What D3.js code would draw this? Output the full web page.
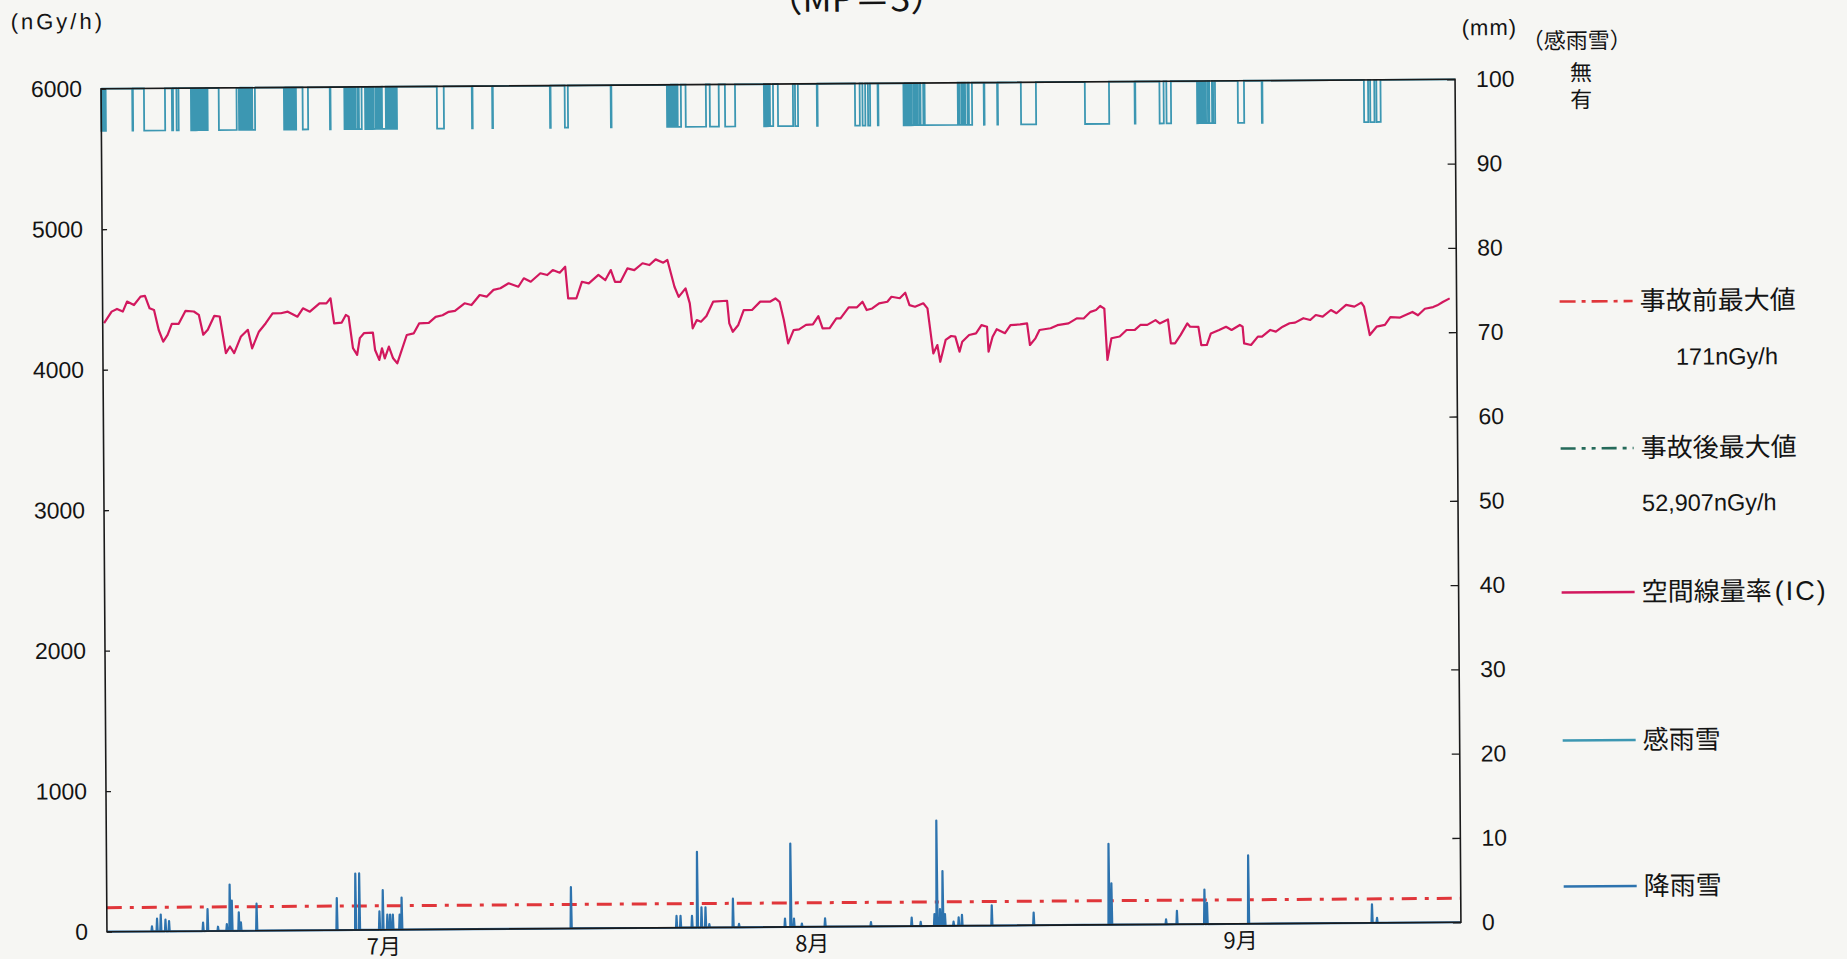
<!DOCTYPE html>
<html>
<head>
<meta charset="utf-8">
<script src="https://cdn.jsdelivr.net/npm/d3@7"></script>
<style>
  html, body { margin: 0; padding: 0; background: #f6f6f3; }
  svg { display: block; }
  text { font-family: "Liberation Sans", Arial, sans-serif; fill: #141414; }
  .jp { font-family: "Noto Sans CJK JP", sans-serif; }
</style>
</head>
<body>
<svg id="chart" width="1847" height="959"></svg>
<script>
// Horizontal axis: days counted from 6/11 00:00 (day 98 = 9/17 00:00)
const periodDays = [0, 98];
const monthTickDays = [20, 51, 82];
const monthLabels = ["7月", "8月", "9月"];

// Vertical axes
const doseTicks = [0, 1000, 2000, 3000, 4000, 5000, 6000];
const rainTicks = [0, 10, 20, 30, 40, 50, 60, 70, 80, 90, 100];

// Pre-accident maximum (nGy/h) and post-accident maximum (legend only, off scale)
const preAccidentMax = 171;
const postAccidentMaxLabel = "52,907nGy/h";
const preAccidentMaxLabel = "171nGy/h";

// Rain/snow sensor levels on the mm scale: none (無) / detected (有)
const senseNone = 100;
const senseDetected = 95;

// Air dose rate (IC), [day, nGy/h]
const doseRate = [
  [0.1,4332],[0.65,4413],[1.04,4432],[1.46,4413],[1.77,4484],[2.27,4459],[2.75,4518],[3.07,4523],[3.4,4435],[3.72,4422],
  [4.05,4280],[4.37,4197],[4.69,4245],[5.0,4323],[5.5,4323],[6.0,4415],[6.6,4410],[6.96,4386],[7.27,4244],[7.6,4280],
  [8.08,4378],[8.47,4373],[8.9,4112],[9.2,4159],[9.5,4112],[10.0,4230],[10.5,4277],[10.8,4145],[11.3,4263],[11.8,4323],
  [12.3,4393],[12.9,4393],[13.4,4404],[14.1,4368],[14.5,4427],[15.0,4403],[15.7,4462],[16.2,4461],[16.5,4497],[16.75,4319],
  [17.3,4324],[17.6,4378],[17.8,4366],[18.1,4141],[18.4,4093],[18.6,4212],[18.9,4247],[19.55,4250],[19.7,4127],[20.0,4056],
  [20.2,4139],[20.4,4067],[20.7,4150],[21.0,4067],[21.3,4031],[22.0,4232],[22.5,4243],[22.9,4314],[23.6,4317],[24.1,4360],
  [24.6,4371],[25.05,4395],[25.5,4402],[26.2,4455],[26.7,4442],[27.3,4513],[27.8,4501],[28.3,4549],[28.8,4560],[29.4,4595],
  [30.1,4570],[30.5,4630],[31.0,4605],[31.7,4665],[32.2,4652],[32.6,4687],[33.1,4668],[33.5,4710],[33.7,4485],[34.3,4485],
  [34.7,4602],[35.2,4590],[35.9,4650],[36.4,4613],[36.8,4684],[37.1,4600],[37.5,4600],[38.0,4695],[38.5,4683],[39.1,4731],
  [39.6,4718],[40.05,4758],[40.6,4734],[40.9,4753],[41.4,4562],[41.7,4490],[42.2,4550],[42.5,4443],[42.7,4265],[43.0,4324],
  [43.3,4312],[43.7,4352],[44.2,4455],[45.2,4460],[45.35,4299],[45.6,4239],[46.0,4287],[46.4,4393],[47.0,4393],[47.6,4452],
  [48.3,4451],[48.7,4474],[49.0,4450],[49.3,4320],[49.6,4154],[50.0,4248],[50.4,4253],[50.9,4284],[51.4,4288],[51.8,4346],
  [52.1,4259],[52.6,4259],[53.1,4329],[53.4,4329],[54.0,4407],[54.6,4407],[55.0,4446],[55.3,4387],[55.7,4398],[56.2,4434],
  [56.8,4445],[57.1,4480],[57.7,4469],[58.1,4508],[58.4,4420],[58.8,4408],[59.4,4432],[59.7,4396],[60.1,4075],[60.4,4134],
  [60.6,4015],[61.0,4170],[61.4,4198],[61.7,4193],[62.0,4086],[62.2,4157],[62.7,4204],[63.2,4215],[63.6,4274],[64.0,4262],
  [64.1,4084],[64.4,4191],[64.7,4244],[65.3,4215],[65.7,4273],[66.4,4277],[66.9,4284],[67.1,4130],[67.5,4177],[67.8,4236],
  [68.6,4248],[69.1,4270],[69.9,4282],[70.5,4317],[71.0,4316],[71.5,4363],[71.9,4376],[72.2,4404],[72.5,4385],[72.7,4020],
  [73.0,4174],[73.6,4186],[74.1,4232],[74.7,4232],[75.1,4267],[75.6,4267],[76.2,4301],[76.5,4277],[77.1,4305],[77.3,4134],
  [77.6,4134],[78.0,4193],[78.5,4276],[78.7,4252],[79.3,4251],[79.5,4121],[79.9,4121],[80.2,4203],[80.8,4227],[81.3,4250],
  [81.7,4227],[82.3,4262],[82.5,4250],[82.6,4131],[83.1,4119],[83.6,4178],[83.9,4178],[84.5,4225],[84.9,4213],[85.4,4248],
  [85.9,4272],[86.3,4276],[86.9,4307],[87.4,4294],[87.8,4329],[88.3,4317],[88.9,4364],[89.3,4341],[90.0,4400],[90.6,4387],
  [91.1,4415],[91.3,4386],[91.7,4184],[92.2,4243],[92.8,4256],[93.2,4310],[93.9,4307],[94.3,4324],[94.8,4346],[95.2,4322],
  [95.7,4368],[96.3,4380],[96.6,4392],[97.0,4415],[97.5,4441]
];

// Precipitation (rain/snow), hourly peaks [day, mm]
const precipitation = [
  [3.26,0.6],[3.63,1.5],[3.9,2.0],[4.24,1.4],[4.5,1.2],[6.96,1.0],[7.29,2.6],[8.04,0.5],[8.68,0.8],[8.9,5.5],
  [9.05,3.6],[9.55,2.2],[9.7,1.0],[10.84,3.2],[16.65,3.8],[18.0,6.7],[18.28,6.7],[19.73,2.2],[19.98,4.7],[20.3,1.8],
  [20.5,1.8],[20.7,1.8],[21.19,1.8],[21.34,3.8],[33.6,4.9],[41.23,1.4],[41.52,1.4],[42.35,1.4],[42.74,9.0],[43.04,2.4],
  [43.33,2.4],[43.6,0.4],[45.32,3.4],[45.75,0.4],[49.08,1.0],[49.5,9.9],[49.73,1.0],[50.3,0.4],[51.98,1.0],[55.3,0.5],
  [58.25,1.0],[58.9,0.5],[59.9,1.4],[60.08,12.5],[60.3,2.0],[60.5,6.5],[60.66,1.4],[61.28,0.5],[61.65,1.0],[61.89,1.3],
  [64.05,2.4],[67.08,1.5],[72.53,9.6],[72.72,4.9],[76.66,0.6],[77.45,1.6],[79.45,4.1],[79.63,2.5],[82.63,8.1],[91.57,2.2],
  [91.93,0.6]
];

// Rain/snow sensor "detected" periods [start day, end day]
const rainSense = [
  [0,0.08],[0.14,0.22],[0.27,0.33],[2.25,2.3],[3.1,4.62],[5.12,5.2],[5.45,5.6],
  [6.5,6.62],[6.7,6.82],[6.9,7.0],[7.08,7.2],[7.28,7.4],[7.48,7.58],[7.62,7.7],
  [8.51,9.8],[9.97,10.08],[10.15,10.28],[10.35,10.48],[10.55,10.66],[10.74,10.86],[10.93,11.13],
  [13.23,13.34],[13.42,13.55],[13.63,13.74],[13.82,13.95],[14.02,14.1],[14.58,14.97],[16.55,16.6],
  [17.6,17.72],[17.8,17.92],[18.0,18.12],[18.2,18.32],[18.4,18.55],[18.65,18.85],
  [19.1,19.22],[19.3,19.42],[19.5,19.62],[19.7,19.85],[19.92,20.05],[20.12,20.25],[20.32,20.6],[20.68,20.8],[20.88,21.0],[21.08,21.2],[21.28,21.4],
  [24.3,24.8],[26.83,26.88],[28.3,28.35],[32.48,32.53],[33.55,33.78],[36.88,36.93],
  [40.95,41.05],[41.12,41.24],[41.32,41.44],[41.52,41.64],[41.72,41.96],[42.3,43.77],
  [44.05,44.7],[45.15,45.88],[47.97,48.1],[48.18,48.3],[48.4,48.63],[48.98,50.07],[50.22,50.43],[51.8,51.85],
  [54.56,54.9],[55.1,55.3],[55.5,55.65],[56.2,56.25],
  [58.07,58.18],[58.26,58.38],[58.46,58.58],[58.66,58.8],[58.88,59.0],[59.08,59.22],[59.3,59.5],[59.6,62.0],
  [62.1,62.25],[62.33,62.45],[62.53,62.7],[62.8,63.03],[63.88,63.93],
  [64.85,64.9],[66.57,67.66],[71.2,72.95],[74.8,74.85],[76.6,76.9],[77.1,77.43],
  [79.32,79.45],[79.52,79.65],[79.75,79.88],[79.96,80.1],[80.2,80.4],[80.48,80.62],[82.27,82.72],
  [84.0,84.05],[91.4,91.7],[91.85,92.15],[92.3,92.6]
];

// Legend entries
const legendItems = [
  { label: "事故前最大値", sub: preAccidentMaxLabel, color: "#e0363a", dash: "16,6,4,6", y: 307, subX: 1677, subY: 363 },
  { label: "事故後最大値", sub: postAccidentMaxLabel, color: "#256a5a", dash: "15,6,4,6,4,6", y: 454, subX: 1642, subY: 509 },
  { label: "空間線量率", suffix: "(IC)", color: "#d2185e", dash: null, y: 598 },
  { label: "感雨雪", color: "#3c97b2", dash: null, y: 746 },
  { label: "降雨雪", color: "#2d73ae", dash: null, y: 892 }
];

const svg = d3.select("#chart");
const root = svg.append("g").attr("transform", "rotate(-0.4 781 505)");

const M = { left: 104, right: 1458, top: 84, bottom: 927 };
const x = d3.scaleLinear().domain(periodDays).range([M.left, M.right]);
const yDose = d3.scaleLinear().domain([0, 6000]).range([M.bottom, M.top]);
const yRain = d3.scaleLinear().domain([0, 100]).range([M.bottom, M.top]);

// Pre-accident maximum reference line
root.append("line")
  .attr("x1", x(periodDays[0])).attr("x2", x(periodDays[1]))
  .attr("y1", yDose(preAccidentMax)).attr("y2", yDose(preAccidentMax))
  .attr("stroke", "#e0363a").attr("stroke-width", 3)
  .attr("stroke-dasharray", "15,8,4,8");

// Precipitation: baseline with one-hour spikes
const hour = 1 / 24;
const precipLine = [[periodDays[0], 0]];
precipitation.forEach(([d, v]) => {
  precipLine.push([d - hour, 0], [d, v], [d + hour, 0]);
});
precipLine.push([periodDays[1], 0]);
root.append("path")
  .datum(precipLine)
  .attr("fill", "none").attr("stroke", "#2d73ae").attr("stroke-width", 2.2)
  .attr("stroke-linejoin", "round")
  .attr("d", d3.line().x(d => x(d[0])).y(d => yRain(d[1])));

// Rain/snow sensor step trace
const senseLine = [[periodDays[0], senseNone]];
rainSense.forEach(([s, e]) => {
  senseLine.push([s, senseNone], [s, senseDetected], [e, senseDetected], [e, senseNone]);
});
senseLine.push([periodDays[1], senseNone]);
root.append("path")
  .datum(senseLine)
  .attr("fill", "none").attr("stroke", "#3c97b2").attr("stroke-width", 1.8)
  .attr("d", d3.line().x(d => x(d[0])).y(d => yRain(d[1])));

// Air dose rate
root.append("path")
  .datum(doseRate)
  .attr("fill", "none").attr("stroke", "#d2185e").attr("stroke-width", 2.2)
  .attr("stroke-linejoin", "round")
  .attr("d", d3.line().x(d => x(d[0])).y(d => yDose(d[1])));

// Plot frame
root.append("rect")
  .attr("x", M.left).attr("y", M.top)
  .attr("width", M.right - M.left).attr("height", M.bottom - M.top)
  .attr("fill", "none").attr("stroke", "#1a1a1a").attr("stroke-width", 1.6);

// Axes
const axisL = root.append("g").attr("transform", `translate(${M.left},0)`)
  .call(d3.axisLeft(yDose).tickValues(doseTicks).tickFormat(d3.format("d"))
    .tickSizeInner(-5).tickSizeOuter(0).tickPadding(19));
const axisR = root.append("g").attr("transform", `translate(${M.right},0)`)
  .call(d3.axisRight(yRain).tickValues(rainTicks).tickFormat(d3.format("d"))
    .tickSizeInner(-8).tickSizeOuter(0).tickPadding(21));
const axisB = root.append("g").attr("transform", `translate(0,${M.bottom})`)
  .call(d3.axisBottom(x).tickValues(monthTickDays).tickFormat((d, i) => monthLabels[i])
    .tickSize(0).tickPadding(9));

[axisL, axisR, axisB].forEach(a => {
  a.select(".domain").remove();
  a.selectAll(".tick line").attr("stroke", "#1a1a1a").attr("stroke-width", 1.3);
  a.selectAll("text").attr("font-size", 23).attr("fill", "#141414");
});
axisB.selectAll("text").attr("class", "jp").attr("font-size", 22);

// Unit labels and title
root.append("text").attr("x", 14).attr("y", 24).attr("font-size", 22)
  .attr("letter-spacing", 3).text("(nGy/h)");
root.append("text").attr("x", 1465).attr("y", 40).attr("font-size", 22)
  .attr("letter-spacing", 1).text("(mm)");
root.append("text").attr("class", "jp").attr("x", 1525).attr("y", 54).attr("font-size", 22).text("（感雨雪）");
root.append("text").attr("class", "jp").attr("x", 1584).attr("y", 86).attr("text-anchor", "middle").attr("font-size", 22).text("無");
root.append("text").attr("class", "jp").attr("x", 1584).attr("y", 113).attr("text-anchor", "middle").attr("font-size", 22).text("有");

const title = root.append("text").attr("class", "jp").attr("x", 860).attr("y", 12)
  .attr("text-anchor", "middle").attr("font-size", 36);
title.append("tspan").text("（MP");
title.append("tspan").attr("dy", 5).text("－");
title.append("tspan").attr("dy", -5).text("3）");

// Legend
const legend = root.append("g");
legendItems.forEach(it => {
  legend.append("line")
    .attr("x1", 1561).attr("x2", 1634).attr("y1", it.y).attr("y2", it.y)
    .attr("stroke", it.color).attr("stroke-width", 2.6)
    .attr("stroke-dasharray", it.dash);
  const t = legend.append("text").attr("class", "jp")
    .attr("x", 1641).attr("y", it.y + 9).attr("font-size", 26).text(it.label);
  if (it.suffix) {
    t.append("tspan").attr("dx", 3).attr("letter-spacing", 2)
      .attr("font-family", "Liberation Sans, Arial, sans-serif").attr("font-size", 27)
      .text(it.suffix);
  }
  if (it.sub) {
    legend.append("text").attr("x", it.subX).attr("y", it.subY + 8)
      .attr("font-size", 23.5).text(it.sub);
  }
});
</script>
</body>
</html>
